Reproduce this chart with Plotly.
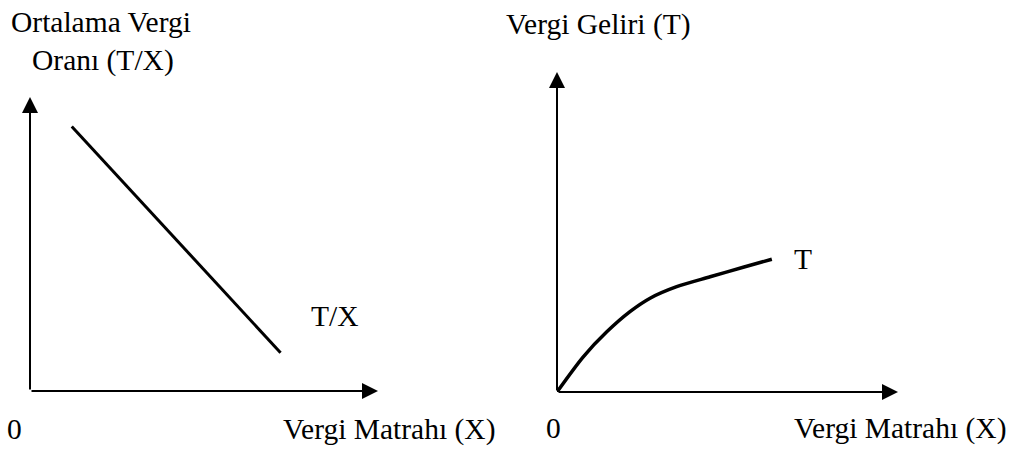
import plotly.graph_objects as go

W, H = 1015, 449

# Left panel: average tax rate (T/X) falling with the tax base X
avg_rate_x = [1.2, 7.2]
avg_rate_y = [9.0, 1.3]

# Right panel: tax revenue T rising at a decreasing rate
rev_x = [0.0, 0.77, 1.46, 2.14, 2.73, 3.51, 4.49, 5.46, 6.30]
rev_y = [0.0, 1.10, 1.88, 2.51, 2.93, 3.29, 3.60, 3.90, 4.15]

FONT = "Liberation Serif, Times New Roman, serif"
FS = 29.5

fig = go.Figure()
fig.add_trace(go.Scatter(x=avg_rate_x, y=avg_rate_y, mode="lines",
                         line=dict(color="black", width=3), xaxis="x", yaxis="y",
                         showlegend=False, hoverinfo="skip"))
fig.add_trace(go.Scatter(x=rev_x, y=rev_y, mode="lines",
                         line=dict(color="black", width=3.5, shape="spline", smoothing=0.8),
                         xaxis="x2", yaxis="y2", showlegend=False, hoverinfo="skip"))

def px(x):
    return x / W

def py(y):
    return 1 - y / H

ax_common = dict(showgrid=False, zeroline=False, showticklabels=False, ticks="",
                 showline=False, fixedrange=True)
fig.update_layout(
    width=W, height=H, margin=dict(l=0, r=0, t=0, b=0),
    paper_bgcolor="white", plot_bgcolor="white",
    xaxis=dict(domain=[px(30), px(378)], range=[0, 10], anchor="y", **ax_common),
    yaxis=dict(domain=[py(391), py(97)], range=[0, 10], anchor="x", **ax_common),
    xaxis2=dict(domain=[px(557), px(898)], range=[0, 10], anchor="y2", **ax_common),
    yaxis2=dict(domain=[py(392), py(72)], range=[0, 10], anchor="x2", **ax_common),
)

annotations = []
# axis arrows
for xr, yr in (("x", "y"), ("x2", "y2")):
    for (hx, hy) in ((10, 0), (0, 10)):
        annotations.append(dict(x=hx, y=hy, ax=0, ay=0, xref=xr, yref=yr,
                                axref=xr, ayref=yr, showarrow=True, arrowhead=2,
                                arrowsize=1.6, arrowwidth=2, arrowcolor="black", text=""))

def label(text, x, y):
    annotations.append(dict(text=text, x=px(x), y=py(y), xref="paper", yref="paper",
                            xanchor="left", yanchor="middle", showarrow=False,
                            borderpad=0, font=dict(family=FONT, size=FS, color="black")))

label("Ortalama Vergi", 10, 22)
label("Oranı (T/X)", 31, 60)
label("Vergi Geliri (T)", 505, 24)
label("T/X", 310, 316)
label("T", 793, 259)
label("0", 6, 429)
label("Vergi Matrahı (X)", 282, 429)
label("0", 545, 428)
label("Vergi Matrahı (X)", 793, 428)

fig.update_layout(annotations=annotations)
fig.write_html("out.html", config={"displayModeBar": False},
               post_script="document.body.style.margin='0';")
